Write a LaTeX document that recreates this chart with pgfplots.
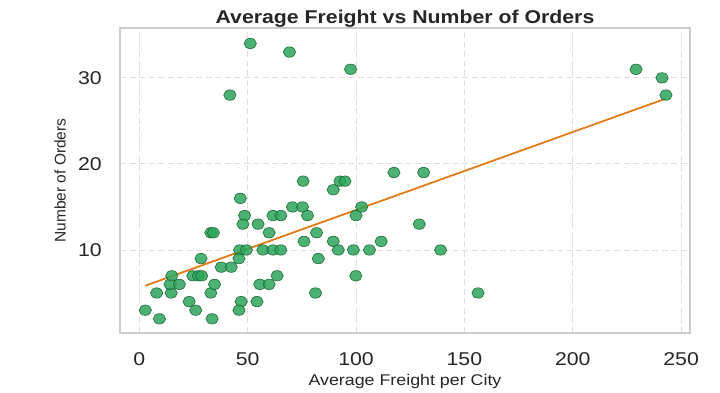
\documentclass[border=0pt]{standalone}
\usepackage{fontspec}
\setmainfont{Liberation Sans}[FakeStretch=1.15]
\newfontfamily\plainfont{Liberation Sans}
\usepackage{pgfplots}
\pgfplotsset{compat=1.18}
\definecolor{ptfill}{RGB}{45,165,90}
\definecolor{ptedge}{RGB}{25,100,50}
\definecolor{trend}{RGB}{228,122,22}
\definecolor{txt}{RGB}{38,38,38}
\begin{document}
\begin{tikzpicture}
\useasboundingbox (0,0) rectangle (720pt,393pt);
\begin{axis}[
  at={(120pt,60pt)}, anchor=south west,
  scale only axis, width=570pt, height=305pt,
  xmin=-8.9, xmax=254.1, ymin=0.35, ymax=35.8,
  xtick={0,50,100,150,200,250}, ytick={10,20,30},
  /pgf/number format/assume math mode=true,
  major tick length=0pt,
  axis line style={draw=black!20, line width=1.5pt},
  grid=major,
  major grid style={draw=black!13, line width=0.9pt, dash pattern=on 6pt off 3.5pt},
  tick label style={font=\fontsize{18.5}{20}\selectfont, text=txt},
  xticklabel style={anchor=base, inner sep=0pt, yshift=-33pt},
  yticklabel style={anchor=east, inner sep=0pt, xshift=-18pt},
  title={\bfseries Average Freight vs Number of Orders},
  every axis title/.style={at={(axis description cs:0.5,1)}, anchor=base, yshift=4.5pt, inner sep=0pt, font=\fontsize{18.5}{20}\selectfont, text=txt},
  xlabel={Average Freight per City},
  ylabel={Number of Orders},
  every axis x label/.style={at={(axis description cs:0.5,0)}, anchor=base, yshift=-53pt, inner sep=0pt, font=\fontsize{15.5}{17}\selectfont, text=txt},
  every axis y label/.style={at={(axis description cs:0,0.5)}, rotate=90, anchor=center, yshift=60pt, inner sep=0pt, font=\plainfont\fontsize{15.5}{17}\selectfont, text=txt},
]
\addplot[only marks, mark=*, mark size=5.2pt,
  mark options={xscale=1.18, fill=ptfill, fill opacity=0.85, draw=ptedge, draw opacity=0.85, line width=0.7pt}]
coordinates {
(2.8,3) (9.3,2) (8,5) (14.7,5) (14.2,6) (18.5,6) (15,7) (23,4) (26,3) (33.6,2)
(33,5) (34.7,6) (24.7,7) (27.3,7) (28.8,7) (28.5,9) (33,12) (34.2,12) (37.8,8) (42.4,8)
(46.6,16) (48.6,14) (47.8,13) (46.3,10) (49.4,10) (46,9) (47,4) (46,3) (54.3,4) (54.8,13)
(57,10) (59.9,12) (61.7,14) (65.3,14) (61.7,10) (65.3,10) (63.6,7) (55.6,6) (59.9,6) (70.7,15)
(75.3,15) (75.6,18) (77.6,14) (76,11) (81.8,12) (82.6,9) (81.3,5) (89.5,17) (92.6,18) (94.9,18)
(89.5,11) (91.8,10) (98.8,10) (100,14) (102.6,15) (99.9,7) (106.2,10) (111.6,11) (117.5,19) (131.2,19)
(129.2,13) (139,10) (156.3,5) (229.2,31) (241.2,30) (243,28) (51.2,34) (69.3,33) (97.5,31) (41.8,28)
};
\addplot[color=trend, line width=1.8pt, no marks] coordinates {(2.8,5.85) (243,27.6)};
\end{axis}
\end{tikzpicture}
\end{document}
